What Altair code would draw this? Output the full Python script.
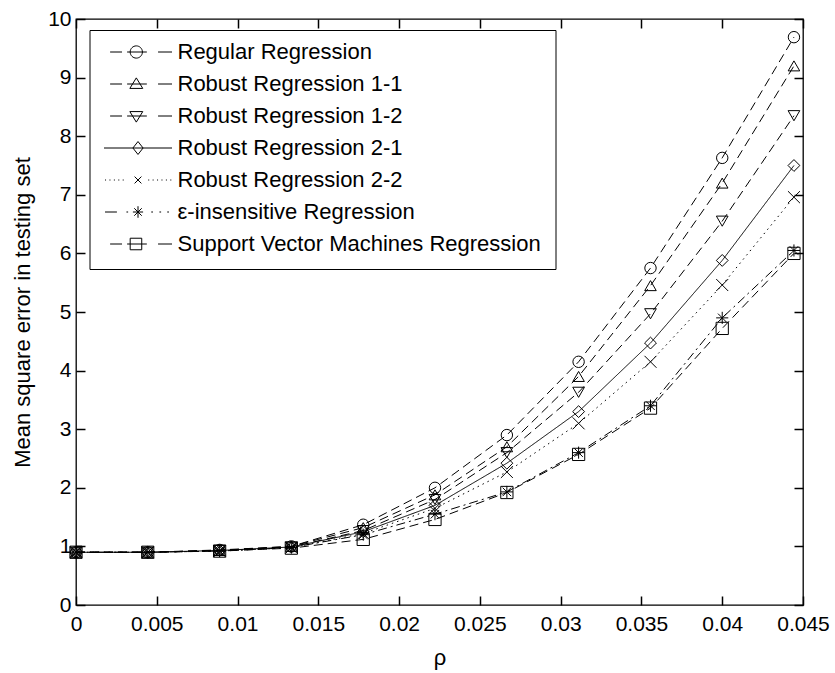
import altair as alt
import pandas as pd

# ---------------- data ----------------
rho = [0, 0.00444, 0.00889, 0.01333, 0.01778, 0.02222, 0.02667, 0.03111, 0.03556, 0.04, 0.04444]
series = [
    "Regular Regression",
    "Robust Regression 1-1",
    "Robust Regression 1-2",
    "Robust Regression 2-1",
    "Robust Regression 2-2",
    "ε-insensitive Regression",
    "Support Vector Machines Regression",
]
regular = [0.90, 0.90, 0.94, 1.00, 1.37, 2.00, 2.90, 4.15, 5.75, 7.63, 9.69]
robust_11 = [0.90, 0.90, 0.93, 1.00, 1.32, 1.88, 2.70, 3.90, 5.45, 7.20, 9.20]
robust_12 = [0.90, 0.90, 0.93, 0.99, 1.27, 1.80, 2.60, 3.63, 4.97, 6.55, 8.35]
robust_21 = [0.90, 0.90, 0.93, 0.99, 1.25, 1.70, 2.42, 3.30, 4.47, 5.88, 7.50]
robust_22 = [0.90, 0.90, 0.92, 0.98, 1.22, 1.65, 2.27, 3.10, 4.15, 5.46, 6.96]
eps_insens = [0.90, 0.90, 0.92, 0.98, 1.20, 1.55, 1.93, 2.60, 3.40, 4.90, 6.05]
svm = [0.90, 0.90, 0.92, 0.97, 1.12, 1.46, 1.92, 2.57, 3.36, 4.72, 6.00]
x_ticks = [0, 0.005, 0.01, 0.015, 0.02, 0.025, 0.03, 0.035, 0.04, 0.045]
y_ticks = [0, 1, 2, 3, 4, 5, 6, 7, 8, 9, 10]

values = [regular, robust_11, robust_12, robust_21, robust_22, eps_insens, svm]
rows = []
for name, vals in zip(series, values):
    for r, v in zip(rho, vals):
        rows.append({"rho": r, "mse": v, "series": name})
df = pd.DataFrame(rows)

# ---------------- styles ----------------
W, H = 727, 586
FONT = "Liberation Sans"
TK = 9  # inward tick length
dash = [9, 5]
dashes = [dash, dash, dash, [1, 0], [1.5, 4], [9, 4, 2, 4], dash]

X_PATH = "M-1,-1L1,1M-1,1L1,-1"
STAR_PATH = "M-1,0L1,0M0,-1L0,1M-0.7,-0.7L0.7,0.7M-0.7,0.7L0.7,-0.7"
marker_shapes = ["circle", "triangle-up", "triangle-down", "diamond", X_PATH, STAR_PATH, "square"]
marker_sizes = [130, 150, 150, 150, 60, 130, 160]

# legend symbols: line sample + marker, unit coords (x in [-1,1])
D1 = "M-0.82,0L-0.47,0M-0.32,0L0.26,0M0.59,0L1,0"
leg_paths = [
    D1 + "M0.13,0A0.18,0.18 0 1,1 -0.23,0A0.18,0.18 0 1,1 0.13,0",
    D1 + "M-0.05,-0.18L0.14,0.13L-0.24,0.13Z",
    D1 + "M-0.05,0.18L0.14,-0.13L-0.24,-0.13Z",
    "M-1,0L1,0M0,-0.19L0.15,0L0,0.19L-0.15,0Z",
    "M-0.97,0L-0.94,0M-0.84,0L-0.81,0M-0.71,0L-0.68,0M-0.58,0L-0.55,0M-0.45,0L-0.42,0"
    "M0.3,0L0.33,0M0.43,0L0.46,0M0.56,0L0.59,0M0.69,0L0.72,0M0.82,0L0.85,0M0.95,0L0.98,0"
    "M-0.1,-0.1L0.1,0.1M-0.1,0.1L0.1,-0.1",
    "M-0.97,0L-0.62,0M-0.34,0L-0.29,0M-0.15,0L0.15,0M0,-0.17L0,0.17M-0.11,-0.11L0.11,0.11M-0.11,0.11L0.11,-0.11"
    "M0.39,0L0.44,0M0.63,0L0.68,0M0.86,0L0.91,0",
    D1 + "M-0.23,-0.17L0.11,-0.17L0.11,0.17L-0.23,0.17Z",
]

xs = alt.Scale(domain=[0, 0.045], nice=False, zero=False)
ys = alt.Scale(domain=[0, 10], nice=False)

tick_style = dict(ticks=True, tickSize=TK, tickColor="black", tickWidth=1.5, offset=-TK,
                  domain=False, grid=False, zindex=1)

x_axis_bottom = alt.Axis(orient="bottom", values=x_ticks, format="~g", title="ρ",
                         labelFlush=False, labelOverlap=False, labelPadding=8, labelFontSize=21,
                         labelFont=FONT, labelColor="black", titleFont=FONT, titleFontSize=22,
                         titleFontWeight="normal", titleColor="black", titleX=W / 2,
                         titleY=52 + TK, titleBaseline="middle", **tick_style)
y_axis_left = alt.Axis(orient="left", values=y_ticks, format="d",
                       title="Mean square error in testing set", labelPadding=5, labelFontSize=21,
                       labelFont=FONT, labelColor="black", titleFont=FONT, titleFontSize=22,
                       titleFontWeight="normal", titleColor="black", titleX=-54 - TK, titleY=H / 2,
                       titleBaseline="middle", titleAlign="center", titleAngle=270, **tick_style)
x_axis_top = alt.Axis(orient="top", values=x_ticks, labels=False, title=None, **tick_style)
y_axis_right = alt.Axis(orient="right", values=y_ticks, labels=False, title=None, **tick_style)

base = alt.Chart(df)

lines = base.mark_line(color="black", strokeWidth=1).encode(
    x=alt.X("rho:Q", scale=xs, axis=x_axis_bottom),
    y=alt.Y("mse:Q", scale=ys, axis=y_axis_left),
    strokeDash=alt.StrokeDash("series:N", scale=alt.Scale(domain=series, range=dashes), legend=None),
)

points = base.mark_point(filled=False, color="black", strokeWidth=1, opacity=1).encode(
    x=alt.X("rho:Q", scale=xs, axis=x_axis_top),
    y=alt.Y("mse:Q", scale=ys, axis=y_axis_right),
    shape=alt.Shape("series:N", scale=alt.Scale(domain=series, range=marker_shapes), legend=None),
    size=alt.Size("series:N", scale=alt.Scale(domain=series, range=marker_sizes), legend=None),
)

legend_layer = base.mark_point(filled=False, color="black", opacity=0).encode(
    x=alt.X("rho:Q", scale=xs, axis=None), y=alt.Y("mse:Q", scale=ys, axis=None),
    shape=alt.Shape(
        "series:N", scale=alt.Scale(domain=series, range=leg_paths),
        legend=alt.Legend(title=None, orient="none", legendX=13.5, legendY=11,
                          symbolSize=68 * 68, symbolStrokeWidth=1, symbolStrokeColor="black",
                          symbolFillColor="transparent", symbolOpacity=1, clipHeight=16,
                          labelFont=FONT, labelFontSize=22, labelColor="black", labelOffset=5,
                          rowPadding=10, padding=14, strokeColor="black", fillColor="white",
                          symbolLimit=0, labelLimit=0),
    ),
)

chart = (
    alt.layer(lines, points, legend_layer)
    .resolve_scale(shape="independent", size="independent", strokeDash="independent")
    .resolve_axis(x="independent", y="independent")
    .resolve_legend(shape="independent")
    .properties(width=W, height=H, autosize=alt.AutoSizeParams(type="none"),
                padding={"left": 76, "top": 19, "right": 32, "bottom": 68}, background="white")
    .configure_view(stroke="black", strokeWidth=1.3)
)

chart.save("out.html", embed_options={"renderer": "svg", "actions": False})
